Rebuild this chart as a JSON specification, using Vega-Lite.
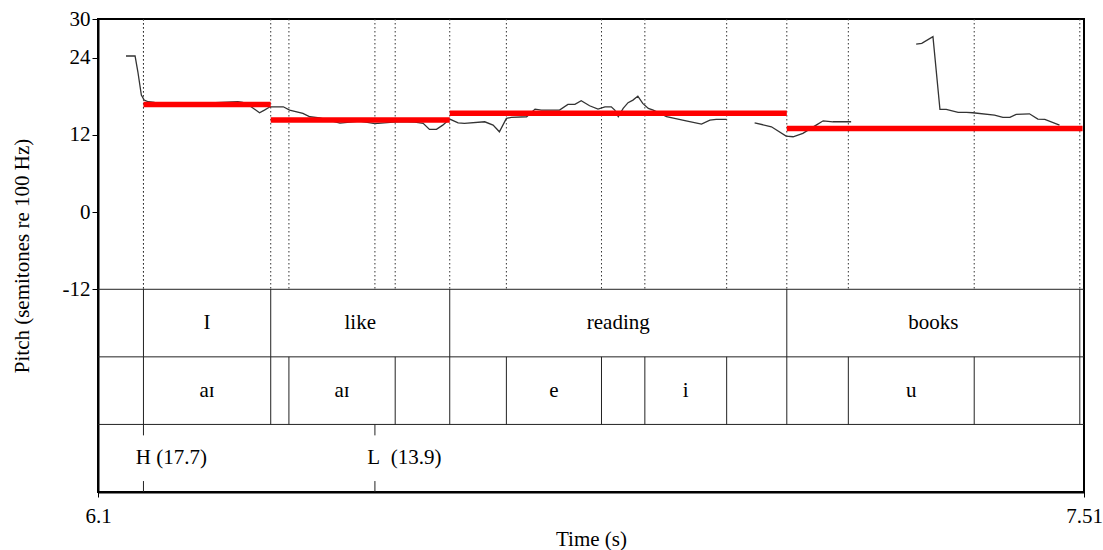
{
  "$schema": "https://vega.github.io/schema/vega-lite/v6.json",
  "width": 986,
  "height": 473,
  "autosize": {"type": "none"},
  "padding": {"left": 98, "top": 19, "right": 19, "bottom": 58},
  "background": "white",
  "config": {
    "view": {"stroke": "black", "strokeWidth": 2},
    "font": "Liberation Serif",
    "axis": {
      "labelFont": "Liberation Serif", "titleFont": "Liberation Serif",
      "labelFontSize": 21, "titleFontSize": 21, "labelColor": "black", "titleColor": "black",
      "titleFontWeight": "normal", "domainColor": "black", "tickColor": "black",
      "grid": false, "labelFlush": false, "labelOverlap": false, "labelBound": false
    },
    "text": {"font": "Liberation Serif", "fontSize": 21, "color": "black"}
  },
  "datasets": {
    "pitch": [
      {"t": 6.140, "p": 24.25, "seg": "a"}, {"t": 6.153, "p": 24.25, "seg": "a"}, {"t": 6.157, "p": 21.8, "seg": "a"},
      {"t": 6.162, "p": 18.18, "seg": "a"}, {"t": 6.166, "p": 17.4, "seg": "a"}, {"t": 6.172, "p": 17.14, "seg": "a"},
      {"t": 6.181, "p": 17.04, "seg": "a"}, {"t": 6.217, "p": 16.95, "seg": "a"}, {"t": 6.260, "p": 16.95, "seg": "a"},
      {"t": 6.300, "p": 17.14, "seg": "a"}, {"t": 6.307, "p": 17.04, "seg": "a"}, {"t": 6.319, "p": 16.36, "seg": "a"},
      {"t": 6.331, "p": 15.43, "seg": "a"}, {"t": 6.338, "p": 15.85, "seg": "a"}, {"t": 6.346, "p": 16.36, "seg": "a"},
      {"t": 6.365, "p": 16.36, "seg": "a"}, {"t": 6.374, "p": 15.85, "seg": "a"}, {"t": 6.393, "p": 15.33, "seg": "a"},
      {"t": 6.403, "p": 14.81, "seg": "a"}, {"t": 6.417, "p": 14.65, "seg": "a"}, {"t": 6.446, "p": 13.83, "seg": "a"},
      {"t": 6.474, "p": 14.14, "seg": "a"}, {"t": 6.496, "p": 13.75, "seg": "a"}, {"t": 6.531, "p": 14.06, "seg": "a"},
      {"t": 6.553, "p": 13.98, "seg": "a"}, {"t": 6.565, "p": 13.78, "seg": "a"}, {"t": 6.574, "p": 12.85, "seg": "a"},
      {"t": 6.584, "p": 12.85, "seg": "a"}, {"t": 6.593, "p": 13.51, "seg": "a"}, {"t": 6.603, "p": 14.45, "seg": "a"},
      {"t": 6.615, "p": 13.87, "seg": "a"}, {"t": 6.624, "p": 13.78, "seg": "a"}, {"t": 6.653, "p": 14.03, "seg": "a"},
      {"t": 6.665, "p": 13.51, "seg": "a"}, {"t": 6.674, "p": 12.47, "seg": "a"}, {"t": 6.684, "p": 14.56, "seg": "a"},
      {"t": 6.691, "p": 14.71, "seg": "a"}, {"t": 6.713, "p": 14.81, "seg": "a"}, {"t": 6.725, "p": 16.0, "seg": "a"},
      {"t": 6.734, "p": 15.85, "seg": "a"}, {"t": 6.760, "p": 15.85, "seg": "a"}, {"t": 6.772, "p": 16.73, "seg": "a"},
      {"t": 6.782, "p": 16.73, "seg": "a"}, {"t": 6.791, "p": 17.29, "seg": "a"}, {"t": 6.803, "p": 16.52, "seg": "a"},
      {"t": 6.815, "p": 16.0, "seg": "a"}, {"t": 6.825, "p": 16.36, "seg": "a"}, {"t": 6.834, "p": 16.36, "seg": "a"},
      {"t": 6.839, "p": 15.85, "seg": "a"}, {"t": 6.844, "p": 14.81, "seg": "a"}, {"t": 6.851, "p": 16.11, "seg": "a"},
      {"t": 6.858, "p": 17.0, "seg": "a"}, {"t": 6.865, "p": 17.4, "seg": "a"}, {"t": 6.872, "p": 18.02, "seg": "a"},
      {"t": 6.879, "p": 16.89, "seg": "a"}, {"t": 6.887, "p": 16.11, "seg": "a"}, {"t": 6.894, "p": 15.85, "seg": "a"},
      {"t": 6.913, "p": 14.81, "seg": "a"}, {"t": 6.941, "p": 14.18, "seg": "a"}, {"t": 6.963, "p": 13.67, "seg": "a"},
      {"t": 6.975, "p": 14.29, "seg": "a"}, {"t": 6.984, "p": 14.40, "seg": "a"}, {"t": 6.999, "p": 14.40, "seg": "a"},
      {"t": 7.039, "p": 13.87, "seg": "b"}, {"t": 7.063, "p": 13.25, "seg": "b"}, {"t": 7.084, "p": 11.80, "seg": "b"},
      {"t": 7.094, "p": 11.70, "seg": "b"}, {"t": 7.108, "p": 12.22, "seg": "b"}, {"t": 7.127, "p": 13.51, "seg": "b"},
      {"t": 7.137, "p": 14.18, "seg": "b"}, {"t": 7.151, "p": 14.03, "seg": "b"}, {"t": 7.177, "p": 14.03, "seg": "b"},
      {"t": 7.270, "p": 26.11, "seg": "c"}, {"t": 7.278, "p": 26.22, "seg": "c"}, {"t": 7.294, "p": 27.25, "seg": "c"},
      {"t": 7.304, "p": 15.96, "seg": "c"}, {"t": 7.313, "p": 15.96, "seg": "c"}, {"t": 7.330, "p": 15.49, "seg": "c"},
      {"t": 7.342, "p": 15.49, "seg": "c"}, {"t": 7.351, "p": 15.43, "seg": "c"}, {"t": 7.382, "p": 15.07, "seg": "c"},
      {"t": 7.394, "p": 14.71, "seg": "c"}, {"t": 7.404, "p": 14.71, "seg": "c"}, {"t": 7.413, "p": 15.18, "seg": "c"},
      {"t": 7.432, "p": 15.27, "seg": "c"}, {"t": 7.444, "p": 14.45, "seg": "c"}, {"t": 7.454, "p": 14.40, "seg": "c"},
      {"t": 7.475, "p": 13.51, "seg": "c"}
    ],
    "means": [
      {"start": 6.165, "end": 6.347, "st": 16.7},
      {"start": 6.347, "end": 6.603, "st": 14.3},
      {"start": 6.603, "end": 7.085, "st": 15.35},
      {"start": 7.085, "end": 7.508, "st": 13.0}
    ],
    "words": [
      {"start": 6.1, "end": 6.165, "label": ""},
      {"start": 6.165, "end": 6.347, "label": "I"},
      {"start": 6.347, "end": 6.603, "label": "like"},
      {"start": 6.603, "end": 7.085, "label": "reading"},
      {"start": 7.085, "end": 7.504, "label": "books"},
      {"start": 7.504, "end": 7.51, "label": ""}
    ],
    "phones": [
      {"start": 6.1, "end": 6.165, "label": ""},
      {"start": 6.165, "end": 6.347, "label": "aɪ"},
      {"start": 6.347, "end": 6.373, "label": ""},
      {"start": 6.373, "end": 6.525, "label": "aɪ"},
      {"start": 6.525, "end": 6.603, "label": ""},
      {"start": 6.603, "end": 6.684, "label": ""},
      {"start": 6.684, "end": 6.820, "label": "e"},
      {"start": 6.820, "end": 6.882, "label": ""},
      {"start": 6.882, "end": 6.999, "label": "i"},
      {"start": 6.999, "end": 7.085, "label": ""},
      {"start": 7.085, "end": 7.173, "label": ""},
      {"start": 7.173, "end": 7.353, "label": "u"},
      {"start": 7.353, "end": 7.504, "label": ""},
      {"start": 7.504, "end": 7.51, "label": ""}
    ],
    "tones": [
      {"t": 6.165, "label": "H (17.7)"},
      {"t": 6.496, "label": "L\u00a0\u00a0(13.9)"}
    ],
    "tiers": [
      {"edge": -12},
      {"edge": -22.5},
      {"edge": -33}
    ]
  },
  "layer": [
    {
      "data": {"name": "phones"},
      "transform": [{"filter": "datum.start > 6.1"}],
      "mark": {"type": "rule", "stroke": "#333333", "strokeWidth": 1, "strokeDash": [1.5, 2.5]},
      "encoding": {
        "x": {"field": "start", "type": "quantitative"},
        "y": {"datum": 30},
        "y2": {"datum": -12}
      }
    },
    {
      "data": {"name": "tones"},
      "mark": {"type": "rule", "stroke": "#333333", "strokeWidth": 1, "strokeDash": [1.5, 2.5]},
      "encoding": {
        "x": {"field": "t", "type": "quantitative"},
        "y": {"datum": 30},
        "y2": {"datum": -12}
      }
    },
    {
      "data": {"name": "tiers"},
      "mark": {"type": "rule", "stroke": "#222222", "strokeWidth": 1},
      "encoding": {"y": {"field": "edge", "type": "quantitative"}}
    },
    {
      "data": {"name": "words"},
      "transform": [{"filter": "datum.start > 6.1"}],
      "mark": {"type": "rule", "stroke": "#222222", "strokeWidth": 1},
      "encoding": {
        "x": {"field": "start", "type": "quantitative"},
        "y": {"datum": -12},
        "y2": {"datum": -22.5}
      }
    },
    {
      "data": {"name": "phones"},
      "transform": [{"filter": "datum.start > 6.1"}],
      "mark": {"type": "rule", "stroke": "#222222", "strokeWidth": 1},
      "encoding": {
        "x": {"field": "start", "type": "quantitative"},
        "y": {"datum": -22.5},
        "y2": {"datum": -33}
      }
    },
    {
      "data": {"name": "tones"},
      "mark": {"type": "rule", "stroke": "#222222", "strokeWidth": 1},
      "encoding": {
        "x": {"field": "t", "type": "quantitative"},
        "y": {"datum": -33},
        "y2": {"datum": -34.7}
      }
    },
    {
      "data": {"name": "tones"},
      "mark": {"type": "rule", "stroke": "#222222", "strokeWidth": 1},
      "encoding": {
        "x": {"field": "t", "type": "quantitative"},
        "y": {"datum": -41.8},
        "y2": {"datum": -43.5}
      }
    },
    {
      "data": {"name": "pitch"},
      "mark": {"type": "line", "stroke": "#333333", "strokeWidth": 1.3},
      "encoding": {
        "x": {
          "field": "t", "type": "quantitative",
          "scale": {"domain": [6.1, 7.51], "nice": false, "zero": false},
          "axis": {"values": [6.1, 7.51], "labelExpr": "'' + datum.value", "title": "Time (s)", "domain": true, "domainWidth": 2, "tickSize": 5, "labelPadding": 8, "titlePadding": 2}
        },
        "y": {
          "field": "p", "type": "quantitative",
          "scale": {"domain": [-43.5, 30], "nice": false, "zero": false},
          "axis": {"values": [-12, 0, 12, 24, 30], "labelExpr": "'' + datum.value", "title": "Pitch (semitones re 100 Hz)", "domain": true, "domainWidth": 2, "tickSize": 6, "labelPadding": 2, "titlePadding": 30}
        },
        "detail": {"field": "seg"}
      }
    },
    {
      "data": {"name": "means"},
      "mark": {"type": "rule", "stroke": "#ff0000", "strokeWidth": 5.5},
      "encoding": {
        "x": {"field": "start", "type": "quantitative"},
        "x2": {"field": "end"},
        "y": {"field": "st", "type": "quantitative"}
      }
    },
    {
      "data": {"name": "words"},
      "transform": [{"fold": ["start", "end"], "as": ["edge", "time"]}],
      "mark": {"type": "text", "baseline": "middle", "align": "center"},
      "encoding": {
        "x": {"aggregate": "mean", "field": "time", "type": "quantitative"},
        "y": {"datum": -17.25},
        "text": {"field": "label"},
        "detail": {"field": "start"}
      }
    },
    {
      "data": {"name": "phones"},
      "transform": [{"fold": ["start", "end"], "as": ["edge", "time"]}],
      "mark": {"type": "text", "baseline": "middle", "align": "center"},
      "encoding": {
        "x": {"aggregate": "mean", "field": "time", "type": "quantitative"},
        "y": {"datum": -27.75},
        "text": {"field": "label"},
        "detail": {"field": "start"}
      }
    },
    {
      "data": {"name": "tones"},
      "mark": {"type": "text", "baseline": "middle", "align": "left", "dx": -7.6},
      "encoding": {
        "x": {"field": "t", "type": "quantitative"},
        "y": {"datum": -38.25},
        "text": {"field": "label"}
      }
    }
  ]
}
